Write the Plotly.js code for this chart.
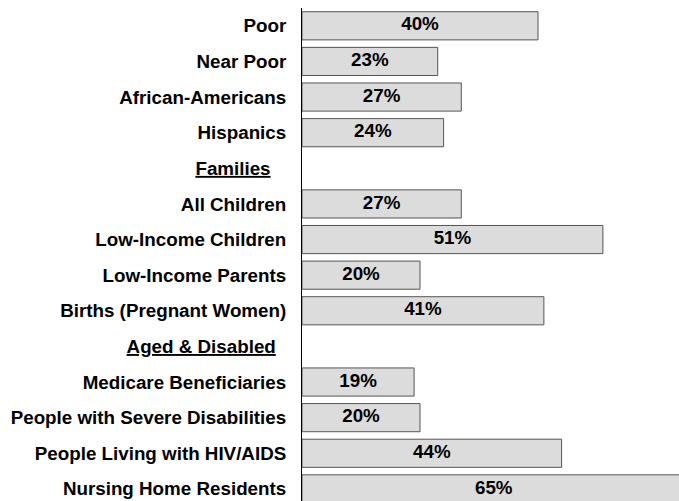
<!DOCTYPE html>
<html>
<head>
<meta charset="utf-8">
<script src="https://cdn.plot.ly/plotly-3.0.1.min.js"></script>
<style>html,body{margin:0;padding:0;background:#fff;}#chart{width:679px;height:501px;}</style>
</head>
<body>
<div id="chart"></div>
<script>
const categories = ['Poor','Near Poor','African-Americans','Hispanics','Families','All Children','Low-Income Children','Low-Income Parents','Births (Pregnant Women)','Aged & Disabled','Medicare Beneficiaries','People with Severe Disabilities','People Living with HIV/AIDS','Nursing Home Residents'];
const values = [40,23,27,24,null,27,51,20,41,null,19,20,44,65];
const headerPad = {'Families':'\u00a0\u00a0\u00a0','Aged & Disabled':'\u00a0\u00a0'};

const idx = categories.map((c,i)=>i);
const labels = values.map(v => v==null ? '' : v + '%');
const tickText = categories.map((c,i)=> values[i]==null ? '<u>' + c.replace('&','&amp;') + '</u>' + (headerPad[c]||'') : c.replace('&','&amp;'));

const font = {family:'Liberation Sans, Arial, sans-serif', size:18.8, color:'#000', weight:'bold'};

const bars = {
  type:'bar', orientation:'h',
  x: values, y: idx,
  width: 0.79,
  marker:{color:'#dcdcdc', line:{color:'#555', width:1}},
  hoverinfo:'none'
};
const txt = {
  type:'scatter', mode:'text',
  x: values.map(v => v==null ? null : v/2), y: idx,
  text: labels, textfont: font,
  textposition:'middle center',
  cliponaxis:false, hoverinfo:'none'
};

const layout = {
  width:679, height:501,
  margin:{l:302, r:0, t:8, b:0},
  paper_bgcolor:'#fff', plot_bgcolor:'#fff',
  showlegend:false,
  xaxis:{range:[0,63.9], showgrid:false, zeroline:false, showticklabels:false, ticks:'', showline:false, fixedrange:true},
  yaxis:{range:[13.34,-0.5], tickvals: idx, ticktext: tickText, tickfont: font,
         showgrid:false, zeroline:false, showline:true, linecolor:'#000', linewidth:1,
         ticks:'', ticklabelstandoff:11, fixedrange:true}
};
Plotly.newPlot('chart',[bars, txt],layout,{displayModeBar:false, staticPlot:true});
</script>
</body>
</html>
